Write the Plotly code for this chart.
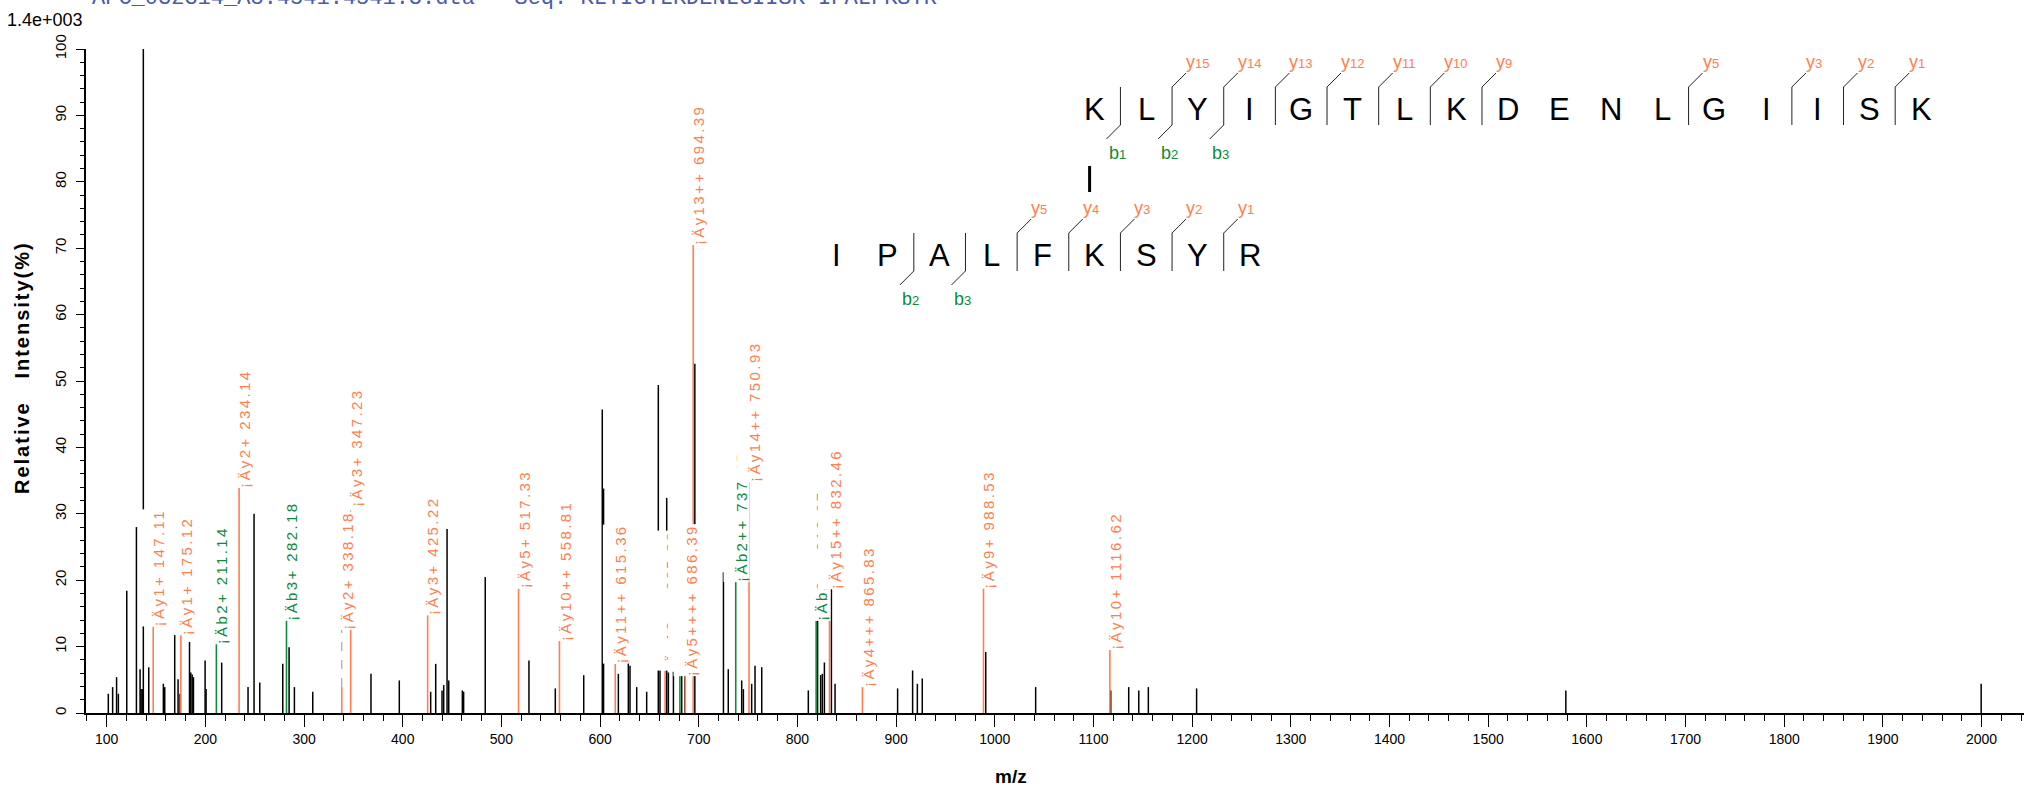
import plotly.graph_objects as go

# ---------------- data ----------------
peak_mz = [101.6, 106.0, 110.0, 111.8, 120.3, 130.1, 133.8, 134.8, 136.0, 137.1,
           142.6, 157.4, 158.8, 168.9, 172.3, 174.3, 183.9, 185.2, 186.6, 187.9,
           199.7, 200.7, 216.5, 243.2, 249.3, 255.1, 278.4, 284.8, 290.2, 308.8,
           367.8, 396.5, 428.3, 433.4, 439.8, 441.5, 444.9, 446.6, 460.4, 461.7,
           483.6, 527.9, 554.6, 583.4, 602.2, 603.5, 618.5, 628.6, 630.3, 637.1,
           647.2, 659.0, 660.7, 667.5, 669.2, 674.3, 682.7, 686.0, 696.0, 725.0,
           729.9, 743.5, 745.2, 753.6, 757.0, 763.8, 811.0, 820.4, 823.5, 825.2,
           827.3, 834.4, 838.1, 901.5, 916.7, 921.5, 926.5, 990.8, 1041.4, 1117.5,
           1135.7, 1145.9, 1155.6, 1204.5, 1578.7, 1999.6]
peak_int = [2.9, 3.9, 5.4, 2.9, 18.4, 28.0, 6.6, 3.6, 3.6, 100.0,
            6.9, 4.4, 3.9, 12.2, 5.1, 2.9, 10.7, 6.1, 5.8, 5.4,
            7.9, 3.6, 7.6, 3.9, 30.0, 4.6, 7.4, 9.9, 3.9, 3.2,
            5.9, 4.9, 3.2, 7.4, 3.4, 4.2, 27.7, 4.9, 3.4, 3.2,
            20.5, 7.9, 3.7, 5.7, 45.7, 33.8, 5.9, 7.9, 7.1, 3.9,
            3.2, 49.4, 7.6, 32.4, 6.1, 6.4, 6.1, 6.1, 52.6, 21.2,
            6.6, 4.9, 3.6, 4.4, 7.1, 6.9, 3.4, 13.9, 5.7, 5.9,
            7.6, 18.7, 4.4, 3.7, 6.4, 4.4, 5.2, 9.2, 3.9, 3.4,
            3.9, 3.4, 3.9, 3.7, 3.4, 4.4]

y_ion_mz = [147.11, 175.12, 234.14, 338.18, 347.23, 425.22, 517.33, 558.81, 615.36,
            665.88, 686.39, 694.39, 750.93, 832.46, 865.83, 988.53, 1116.62]
y_ion_int = [13.0, 11.7, 33.9, 3.9, 12.9, 14.7, 18.7, 10.9, 7.4,
             6.4, 5.6, 70.5, 34.8, 18.7, 3.9, 18.8, 9.5]
y_ion_label = ["¡Äy1+ 147.11", "¡Äy1+ 175.12", "¡Äy2+ 234.14", "¡Äy2+ 338.18",
               "¡Äy3+ 347.23", "¡Äy3+ 425.22", "¡Äy5+ 517.33", "¡Äy10++ 558.81",
               "¡Äy11++ 615.36", "¡Äy12++ 665.88", "¡Äy5++++ 686.39",
               "¡Äy13++ 694.39", "¡Äy14++ 750.93", "¡Äy15++ 832.46",
               "¡Äy4+++ 865.83", "¡Äy9+ 988.53", "¡Äy10+ 1116.62"]

b_ion_mz = [211.14, 282.18, 680.90, 737.45, 818.97]
b_ion_int = [10.4, 13.9, 6.2, 19.7, 13.9]
b_ion_label = ["¡Äb2+ 211.14", "¡Äb3+ 282.18", "¡Äb6+++ 680.90",
               "¡Äb2++ 737.45", "¡Äb3++ 818.97"]

# labels lifted above their peak (label base level, % intensity)
label_lift = {338.18: 12.5, 347.23: 31.0}

x_tick_values = list(range(100, 2001, 100))
y_tick_values = list(range(0, 101, 10))

seq_top = "KLYIGTLKDENLGIISK"
seq_bottom = "IPALFKSYR"
top_y_cuts = [2, 3, 4, 5, 6, 7, 8, 12, 14, 15, 16]
top_b_cuts = [1, 2, 3]
bottom_y_cuts = [4, 5, 6, 7, 8]
bottom_b_cuts = [2, 3]
link_top_index = 0      # K in the first peptide
link_bottom_index = 5   # K in the second peptide

header_file = "APC_032314_A8.4541.4541.3.dta"
header_seq = "Seq: KLYIGTLKDENLGIISK-IPALFKSYR"
max_abs = "1.4e+003"
x_title = "m/z"
y_title = "Relative\u00a0\u00a0\u00a0Intensity(%)"

# ---------------- style / layout ----------------
W, H = 2024, 788
ML, MR, MT, MB = 86, 0, 49, 75
PW, PH = W - ML - MR, H - MT - MB
ORANGE = "#FF7F50"
GREEN = "#0E8A3A"
FONT = "Liberation Sans, Arial, sans-serif"


def px_x(p):
    return (p - ML) / PW


def px_y(p):
    return 1 - (p - MT) / PH


def sticks(mz, inten):
    xs, ys = [], []
    for m, i in zip(mz, inten):
        xs += [m, m, None]
        ys += [0, i, None]
    return xs, ys


fig = go.Figure()
bx, by = sticks(peak_mz, peak_int)
fig.add_trace(go.Scatter(x=bx, y=by, mode="lines", line=dict(color="black", width=1.5),
                         hoverinfo="skip", showlegend=False))

# dashed connectors for lifted labels
all_ion_mz = y_ion_mz + b_ion_mz
all_ion_int = y_ion_int + b_ion_int
cx, cy = [], []
for m, i in zip(all_ion_mz, all_ion_int):
    if m in label_lift:
        cx += [m, m, None]
        cy += [i, label_lift[m], None]
fig.add_trace(go.Scatter(x=cx, y=cy, mode="lines",
                         line=dict(color="#A8A8A8", width=1.2, dash="dash"),
                         hoverinfo="skip", showlegend=False))

ox, oy = sticks(y_ion_mz, y_ion_int)
fig.add_trace(go.Scatter(x=ox, y=oy, mode="lines", line=dict(color=ORANGE, width=1.6),
                         hoverinfo="skip", showlegend=False))
gx, gy = sticks(b_ion_mz, b_ion_int)
fig.add_trace(go.Scatter(x=gx, y=gy, mode="lines", line=dict(color=GREEN, width=1.6),
                         hoverinfo="skip", showlegend=False))

annotations = []
ions = [(m, i, t, ORANGE) for m, i, t in zip(y_ion_mz, y_ion_int, y_ion_label)]
ions += [(m, i, t, GREEN) for m, i, t in zip(b_ion_mz, b_ion_int, b_ion_label)]
ions.sort(key=lambda r: r[0])
for m, i, t, col in ions:
    annotations.append(dict(
        x=m, y=label_lift.get(m, i), xref="x", yref="y",
        text="<span style='letter-spacing:2.4px'>" + t + "</span>",
        showarrow=False, textangle=-90, xanchor="left", yanchor="bottom",
        xshift=-12, height=26, valign="bottom", borderpad=0, borderwidth=0,
        bgcolor="white", font=dict(family=FONT, size=15, color=col)))

# ---------------- peptide diagram ----------------
SP = 51.65
TOP_X0, TOP_Y = 1094.6, 107
BOT_Y = 253
BOT_X0 = TOP_X0 + (link_top_index - link_bottom_index) * SP
shapes = []


def line_px(x0, y0, x1, y1, width=1.0, color="#222222"):
    shapes.append(dict(type="line", xref="paper", yref="paper",
                       x0=px_x(x0), y0=px_y(y0), x1=px_x(x1), y1=px_y(y1),
                       line=dict(color=color, width=width)))


def text_px(x, y, txt, size, color, xanchor="center", yanchor="middle",
            weight="normal", family=FONT, angle=0):
    annotations.append(dict(x=px_x(x), y=px_y(y), xref="paper", yref="paper",
                            text=txt, showarrow=False, xanchor=xanchor, yanchor=yanchor,
                            textangle=angle,
                            font=dict(family=family, size=size, color=color, weight=weight)))


def draw_peptide(seq, x0, y0, ycuts, bcuts):
    n = len(seq)
    for k, ch in enumerate(seq):
        text_px(x0 + k * SP, y0 + 2, ch, 31, "black")
    for k in sorted(set(ycuts) | set(bcuts)):
        xb = x0 + (k - 0.5) * SP
        line_px(xb, y0 - 20, xb, y0 + 18)
        if k in ycuts:
            line_px(xb, y0 - 20, xb + 14, y0 - 34)
            text_px(xb + 12, y0 - 45, "y<span style='font-size:13px'>%d</span>" % (n - k),
                    18, ORANGE, xanchor="left")
        if k in bcuts:
            line_px(xb, y0 + 18, xb - 14, y0 + 32)
            text_px(xb - 3, y0 + 46, "b<span style='font-size:13px'>%d</span>" % k,
                    18, GREEN)


draw_peptide(seq_top, TOP_X0, TOP_Y, top_y_cuts, top_b_cuts)
draw_peptide(seq_bottom, BOT_X0, BOT_Y, bottom_y_cuts, bottom_b_cuts)
link_x = TOP_X0 + link_top_index * SP - 5
line_px(link_x, 166, link_x, 192, width=3, color="black")

# header texts
text_px(90, 13, header_file + "\u00a0\u00a0\u00a0" + header_seq, 22, "#4A5AB0",
        xanchor="left", yanchor="bottom", family="Liberation Mono, Courier New, monospace")
text_px(5, 20, max_abs, 18, "black", xanchor="left")
text_px(1011, 776, "<b>" + x_title + "</b>", 19, "black")
text_px(22, 368, "<b><span style='letter-spacing:2px'>" + y_title + "</span></b>", 20,
        "black", angle=-90)

fig.update_layout(
    width=W, height=H, autosize=False,
    margin=dict(l=ML, r=MR, t=MT, b=MB),
    paper_bgcolor="white", plot_bgcolor="white",
    showlegend=False,
    font=dict(family=FONT, size=14, color="black"),
    annotations=annotations, shapes=shapes,
    xaxis=dict(range=[79, 2043], tickvals=x_tick_values, ticks="outside", ticklen=12,
               tickwidth=1.3, tickcolor="black", showline=True, linecolor="black",
               linewidth=1.5, showgrid=False, zeroline=False, automargin=False,
               tickfont=dict(size=14),
               minor=dict(dtick=20, tick0=0, ticks="outside", ticklen=6,
                          tickcolor="black", tickwidth=1.2, showgrid=False)),
    yaxis=dict(range=[0, 100], tickvals=y_tick_values, ticks="outside", ticklen=8,
               tickwidth=1.3, tickcolor="black", showline=True, linecolor="black",
               linewidth=1.5, showgrid=False, zeroline=False, tickangle=-90,
               automargin=False, ticklabelstandoff=4,
               tickfont=dict(size=15),
               minor=dict(dtick=2, tick0=0, ticks="outside", ticklen=4,
                          tickcolor="black", tickwidth=1.2, showgrid=False)),
)

fig.write_html("out.html", config={"displayModeBar": False},
               post_script="document.body.style.margin='0px';")
